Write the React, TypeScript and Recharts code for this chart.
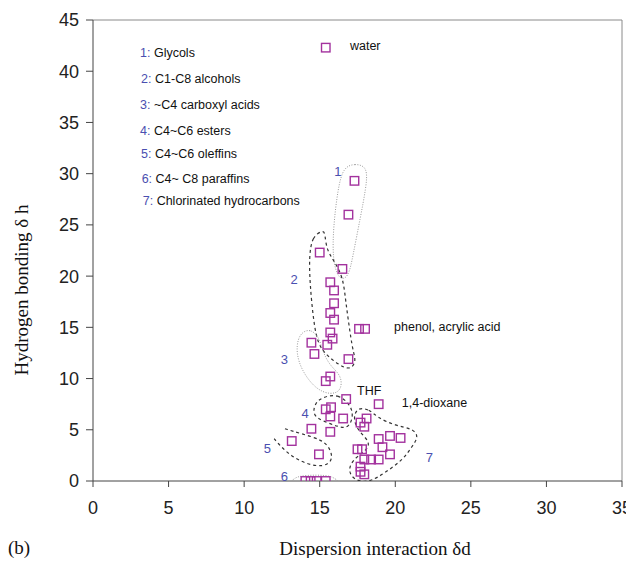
import React from 'react';
import { ScatterChart, Scatter, XAxis, YAxis, ReferenceLine } from 'recharts';

// ---- axes ----
const xTicks = [0, 5, 10, 15, 20, 25, 30, 35];
const yTicks = [0, 5, 10, 15, 20, 25, 30, 35, 40, 45];

// ---- solvents (δd, δh) ----
const water = [{ x: 15.4, y: 42.3 }];
const glycols = [
  { x: 17.3, y: 29.3 }, { x: 16.9, y: 26.0 }, { x: 16.5, y: 20.7 },
];
const alcohols = [
  { x: 15.0, y: 22.3 }, { x: 15.7, y: 19.4 }, { x: 15.95, y: 18.6 }, { x: 15.95, y: 17.35 },
  { x: 15.7, y: 16.4 }, { x: 15.95, y: 15.75 }, { x: 15.7, y: 14.5 }, { x: 15.85, y: 13.9 },
  { x: 15.5, y: 13.3 }, { x: 16.9, y: 11.9 },
];
const phenolAcrylic = [{ x: 17.6, y: 14.85 }, { x: 18.0, y: 14.85 }];
const acids = [
  { x: 14.45, y: 13.5 }, { x: 14.65, y: 12.4 }, { x: 15.7, y: 10.2 }, { x: 15.4, y: 9.75 },
];
const thf = [{ x: 16.75, y: 8.0 }];
const dioxane = [{ x: 18.9, y: 7.5 }];
const esters = [
  { x: 15.4, y: 7.0 }, { x: 15.75, y: 7.2 }, { x: 15.7, y: 6.3 }, { x: 16.55, y: 6.1 },
  { x: 14.45, y: 5.1 }, { x: 15.7, y: 4.8 },
];
const olefins = [{ x: 13.15, y: 3.9 }, { x: 14.95, y: 2.6 }];
const paraffins = [
  { x: 14.05, y: 0 }, { x: 14.4, y: 0 }, { x: 14.8, y: 0 }, { x: 15.4, y: 0 },
];
const chlorinated = [
  { x: 17.7, y: 5.7 }, { x: 18.1, y: 6.1 }, { x: 17.95, y: 5.3 }, { x: 18.9, y: 4.1 },
  { x: 19.65, y: 4.4 }, { x: 20.35, y: 4.2 }, { x: 19.15, y: 3.3 }, { x: 19.65, y: 2.6 },
  { x: 17.5, y: 3.1 }, { x: 17.8, y: 3.1 }, { x: 17.95, y: 2.1 }, { x: 18.4, y: 2.1 },
  { x: 18.9, y: 2.1 }, { x: 17.7, y: 1.4 }, { x: 17.7, y: 0.9 }, { x: 17.95, y: 0.65 },
];

// ---- hand-drawn group outlines (data units) ----
const outline1 = [
  { x: 16.55, y: 30.6 }, { x: 17.3, y: 31.0 }, { x: 18.2, y: 30.7 }, { x: 18.05, y: 28.5 },
  { x: 17.7, y: 25.8 }, { x: 17.2, y: 22.0 }, { x: 16.9, y: 19.8 }, { x: 16.25, y: 19.6 },
  { x: 15.85, y: 21.6 }, { x: 15.9, y: 24.8 }, { x: 16.2, y: 28.5 },
];
const outline2 = [
  { x: 15.25, y: 24.5 }, { x: 14.5, y: 23.9 }, { x: 14.3, y: 21.9 }, { x: 14.35, y: 19.3 },
  { x: 14.6, y: 15.4 }, { x: 14.9, y: 13.3 }, { x: 15.45, y: 12.3 }, { x: 16.2, y: 11.4 },
  { x: 17.0, y: 10.8 }, { x: 17.4, y: 11.6 }, { x: 17.25, y: 12.5 }, { x: 17.1, y: 13.5 },
  { x: 16.7, y: 17.7 }, { x: 16.55, y: 19.9 }, { x: 15.9, y: 21.6 }, { x: 15.45, y: 22.6 },
  { x: 15.35, y: 24.1 },
];
const outline3 = [
  { x: 13.9, y: 14.6 }, { x: 14.4, y: 14.8 }, { x: 14.95, y: 14.1 }, { x: 15.2, y: 12.6 },
  { x: 15.7, y: 11.2 }, { x: 16.45, y: 10.3 }, { x: 16.45, y: 8.8 }, { x: 15.7, y: 8.4 },
  { x: 14.7, y: 9.0 }, { x: 13.8, y: 10.8 }, { x: 13.45, y: 12.5 }, { x: 13.55, y: 13.9 },
];
const outline4 = [
  { x: 15.25, y: 8.2 }, { x: 16.2, y: 8.5 }, { x: 17.0, y: 7.5 }, { x: 17.25, y: 6.4 },
  { x: 16.9, y: 5.1 }, { x: 16.2, y: 5.3 }, { x: 15.3, y: 5.8 }, { x: 14.5, y: 6.4 },
  { x: 14.7, y: 7.7 },
];
const outline5 = [
  { x: 12.7, y: 5.1 }, { x: 13.7, y: 4.65 }, { x: 15.25, y: 4.0 }, { x: 15.75, y: 3.0 },
  { x: 15.85, y: 2.0 }, { x: 15.25, y: 1.35 }, { x: 14.1, y: 1.65 }, { x: 13.1, y: 2.45 },
  { x: 12.4, y: 3.4 }, { x: 11.95, y: 4.2 },
];
const outline6 = [
  { x: 13.15, y: 0 }, { x: 13.5, y: 0.5 }, { x: 14.8, y: 0.6 }, { x: 15.8, y: 0.5 }, { x: 16.2, y: 0 },
];
const outline7 = [
  { x: 17.45, y: 7.2 }, { x: 18.3, y: 7.0 }, { x: 18.8, y: 6.2 }, { x: 20.0, y: 5.4 },
  { x: 21.2, y: 5.1 }, { x: 21.55, y: 4.3 }, { x: 21.1, y: 3.35 }, { x: 20.5, y: 2.05 },
  { x: 19.3, y: 0.8 }, { x: 18.45, y: 0 }, { x: 17.7, y: -0.1 }, { x: 17.05, y: 0.4 },
  { x: 16.9, y: 1.4 }, { x: 17.45, y: 2.4 }, { x: 18.1, y: 3.0 }, { x: 18.35, y: 3.8 },
  { x: 17.6, y: 4.8 }, { x: 17.2, y: 6.0 },
];

// ---- group number labels ----
const groupNums = ['1', '2', '3', '4', '5', '6', '7'];
const groupNumX = [16.2, 13.3, 12.66, 14.03, 11.54, 12.66, 22.26];
const groupNumY = [30.2, 19.7, 11.9, 6.6, 3.2, 0.4, 2.3];

// ---- legend text ----
const legendNames = [
  'Glycols', 'C1-C8 alcohols', '~C4 carboxyl acids', 'C4~C6 esters',
  'C4~C6 oleffins', 'C4~ C8 paraffins', 'Chlorinated hydrocarbons',
];
const legendX = [3.11, 3.18, 3.11, 3.11, 3.18, 3.22, 3.29];
const legendY = [41.77, 39.2, 36.7, 34.2, 31.9, 29.5, 27.3];

// ---- compound annotations ----
const noteTexts = ['water', 'phenol, acrylic acid', 'THF', '1,4-dioxane'];
const noteX = [17.0, 19.92, 17.47, 20.43];
const noteY = [42.5, 15.04, 8.75, 7.6];

const MARK = '#a3329e';
const NUMBLUE = '#4a4fb0';
const SANS = 'Liberation Sans, Arial, Helvetica, sans-serif';
const SERIF = 'Liberation Serif, Times New Roman, serif';

const allPoints = [
  ...water, ...glycols, ...alcohols, ...phenolAcrylic, ...acids, ...thf, ...dioxane,
  ...esters, ...olefins, ...paraffins, ...chlorinated,
];

const groupData = groupNums.map((n, i) => ({ x: groupNumX[i], y: groupNumY[i], n }));
const legendData = legendNames.map((name, i) => ({
  x: legendX[i], y: legendY[i], n: groupNums[i], name,
}));
const noteData = noteTexts.map((t, i) => ({ x: noteX[i], y: noteY[i], t }));

const SquareMark = (p: any) => {
  if (p.cx == null || p.cy == null) return <g />;
  return (
    <rect x={p.cx - 4.25} y={p.cy - 4.25} width={8.5} height={8.5} fill="none" stroke={MARK} strokeWidth={1.4} />
  );
};

const NoShape = () => <g />;

const GroupNum = (p: any) => (
  <text x={p.cx} y={p.cy} textAnchor="middle" dominantBaseline="central"
    fontSize={13} fontFamily={SANS} fill={NUMBLUE}>{p.payload.n}</text>
);

const LegendItem = (p: any) => (
  <text x={p.cx} y={p.cy} dominantBaseline="central" fontSize={12.5} fontFamily={SANS} fill="#111">
    <tspan fill={NUMBLUE}>{p.payload.n}:</tspan>
    <tspan> {p.payload.name}</tspan>
  </text>
);

const NoteText = (p: any) => (
  <text x={p.cx} y={p.cy} dominantBaseline="central" fontSize={12.5} fontFamily={SANS} fill="#111">
    {p.payload.t}
  </text>
);

const XTick = (p: any) => (
  <text x={p.x} y={p.y} textAnchor="middle" dy="0.71em" fontSize={18} fill="#222" fontFamily={SANS}>
    {p.payload.value}
  </text>
);

const XTitle = (props: any) => {
  const vb = props.viewBox || { x: 85, y: 473, width: 529, height: 40 };
  return (
    <g>
      <text x={vb.x + 282} y={vb.y + 67} textAnchor="middle" dominantBaseline="central"
        fontSize={19} fontFamily={SERIF} fill="#111">Dispersion interaction δd</text>
      <text x={0} y={vb.y + 66} dominantBaseline="central"
        fontSize={19} fontFamily={SERIF} fill="#111">(b)</text>
    </g>
  );
};

const YTitle = (props: any) => {
  const vb = props.viewBox || { x: 25, y: 12, width: 60, height: 461 };
  const cx = 13;
  const cy = vb.y + 270;
  return (
    <text x={cx} y={cy} textAnchor="middle" dominantBaseline="central"
      transform={`rotate(-90 ${cx} ${cy})`}
      fontSize={19} fontFamily={SERIF} fill="#111">Hydrogen bonding δ h</text>
  );
};

const dashed = { stroke: '#333', strokeWidth: 1.2, strokeDasharray: '3 3', fill: 'none' };
const dotted = { stroke: '#9a9a9a', strokeWidth: 1, strokeDasharray: '1 1.5', fill: 'none' };

export default function App() {
  return (
    <div style={{ width: 626, height: 550 }}>
      <style>{`html,body{overflow:hidden} .recharts-surface{overflow:visible}`}</style>
      <ScatterChart width={626} height={550} margin={{ top: 12, right: 12, left: 25, bottom: 37 }}>
        <XAxis
          type="number" dataKey="x" domain={[0, 35]} ticks={xTicks} allowDataOverflow
          height={40} tickSize={6} tickMargin={14} interval={0}
          axisLine={{ stroke: '#444' }} tickLine={{ stroke: '#444' }}
          tick={XTick}
          label={{ content: XTitle }}
        />
        <YAxis
          type="number" dataKey="y" domain={[0, 45]} ticks={yTicks} allowDataOverflow
          width={60} tickSize={7} tickMargin={7}
          axisLine={{ stroke: '#444' }} tickLine={{ stroke: '#444' }}
          tick={{ fontSize: 18, fill: '#222', fontFamily: SANS }}
          label={{ content: YTitle }}
        />
        <ReferenceLine y={45} stroke="#8a8a8a" strokeWidth={1} />
        <ReferenceLine x={35} stroke="#8a8a8a" strokeWidth={1} />

        <Scatter data={outline1} fill="none" line={dotted} lineJointType="basisClosed" shape={NoShape} isAnimationActive={false} />
        <Scatter data={outline2} fill="none" line={dashed} lineJointType="basisClosed" shape={NoShape} isAnimationActive={false} />
        <Scatter data={outline3} fill="none" line={dotted} lineJointType="basisClosed" shape={NoShape} isAnimationActive={false} />
        <Scatter data={outline4} fill="none" line={dashed} lineJointType="basisClosed" shape={NoShape} isAnimationActive={false} />
        <Scatter data={outline5} fill="none" line={dashed} lineJointType="basis" shape={NoShape} isAnimationActive={false} />
        <Scatter data={outline6} fill="none" line={dotted} lineJointType="basis" shape={NoShape} isAnimationActive={false} />
        <Scatter data={outline7} fill="none" line={dashed} lineJointType="basisClosed" shape={NoShape} isAnimationActive={false} />

        <Scatter data={allPoints} shape={SquareMark} isAnimationActive={false} />
        <Scatter data={groupData} shape={GroupNum} isAnimationActive={false} />
        <Scatter data={legendData} shape={LegendItem} isAnimationActive={false} />
        <Scatter data={noteData} shape={NoteText} isAnimationActive={false} />
      </ScatterChart>
    </div>
  );
}
